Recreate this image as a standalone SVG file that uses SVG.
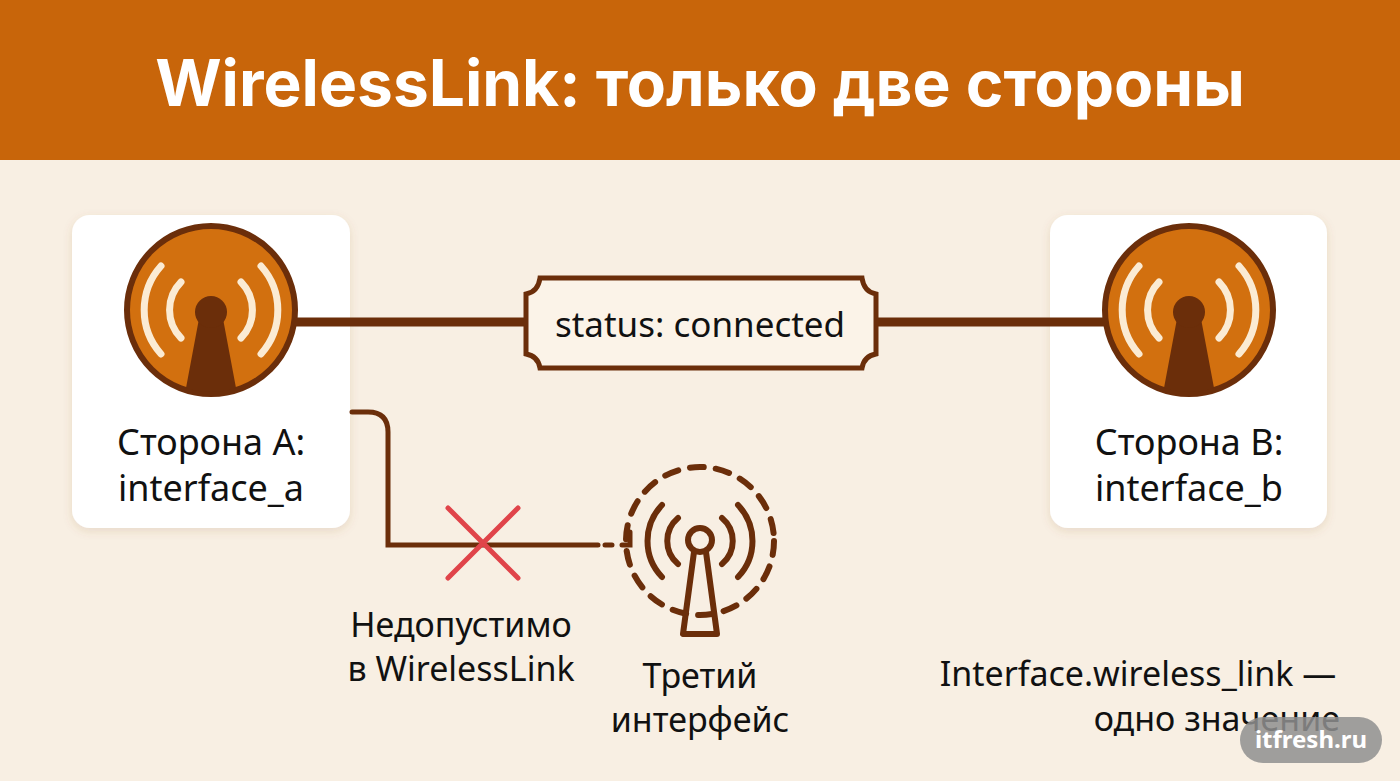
<svg xmlns="http://www.w3.org/2000/svg" width="1400" height="781" viewBox="0 0 1400 781">
<style>
.t{font-family:"Noto Sans","Open Sans",sans-serif;fill:#111}
.card{fill:#fff}
.br{stroke:#6B2E0A;fill:none;stroke-linecap:round}
.wave{stroke:#FBEBD3;stroke-width:7;fill:none;stroke-linecap:round}
</style>
<defs>
<filter id="sh" x="-10%" y="-10%" width="120%" height="120%"><feDropShadow dx="0" dy="3" stdDeviation="5" flood-color="#8a5a30" flood-opacity="0.15"/></filter>
<g id="ant">
<circle r="84" fill="#D2700F" stroke="#6B2E0A" stroke-width="6"/>
<path d="M-30,-28 A40,40 0 0 0 -30,28 M30,-28 A40,40 0 0 1 30,28" class="wave"/>
<path d="M-50,-44 A66,66 0 0 0 -50,44 M50,-44 A66,66 0 0 1 50,44" class="wave"/>
<path d="M-10,-2 L-25,78 Q0,86 25,78 L10,-2 Z" fill="#6B2E0A"/>
<circle cy="2" r="16" fill="#6B2E0A"/>
</g>
</defs>
<rect width="1400" height="781" fill="#F8EFE3"/>
<rect width="1400" height="160" fill="#C8650A"/>
<text x="700" y="106" text-anchor="middle" font-family="Inter,'Noto Sans',sans-serif" font-weight="700" font-size="64" fill="#fff">WirelessLink: только две стороны</text>
<g id="sideA">
<rect x="72" y="215" width="278" height="313" rx="18" class="card" filter="url(#sh)"/>
<use href="#ant" x="211" y="310"/>
<text x="211" y="455" text-anchor="middle" class="t" font-size="36">Сторона А:</text>
<text x="211" y="501" text-anchor="middle" class="t" font-size="36">interface_a</text>
</g>
<g id="sideB">
<rect x="1050" y="215" width="277" height="313" rx="18" class="card" filter="url(#sh)"/>
<use href="#ant" x="1189" y="310"/>
<text x="1189" y="455" text-anchor="middle" class="t" font-size="36">Сторона B:</text>
<text x="1189" y="501" text-anchor="middle" class="t" font-size="36">interface_b</text>
</g>
<g id="connectors">
<path d="M297,322 H526 M876,322 H1103" class="br" stroke-width="9" stroke-linecap="butt"/>
<path d="M352,412 H368 Q388,412 388,432 V545 H598" class="br" stroke-width="5"/>
<path d="M605,545 H612 M622,545 L630,545 V532" class="br" stroke-width="5"/>
<path d="M448,508 L518,578 M518,508 L448,578" stroke="#E0444A" stroke-width="5" stroke-linecap="round"/>
</g>
<g id="label">
<path d="M540,278 H862 Q864,292 876,294 V354 Q864,356 862,368 H540 Q538,356 526,354 V294 Q538,292 540,278 Z" fill="#FBF3E8" stroke="#6B2E0A" stroke-width="5"/>
<text x="700" y="337" text-anchor="middle" class="t" font-size="35">status: connected</text>
</g>
<g id="third">
<circle cx="700" cy="541" r="74" class="br" stroke-width="6" stroke-dasharray="14 12"/>
<path d="M678,518 A30,30 0 0 0 678,564 M722,518 A30,30 0 0 1 722,564" class="br" stroke-width="6"/>
<path d="M662,505 A52,52 0 0 0 662,577 M738,505 A52,52 0 0 1 738,577" class="br" stroke-width="6"/>
<path d="M694,552 L683,634 H717 L706,552" class="br" stroke-width="6" stroke-linejoin="round"/>
<circle cx="700" cy="540" r="12" class="br" stroke-width="6" fill="#F8EFE3"/>
<text x="700" y="688" text-anchor="middle" class="t" font-size="34">Третий</text>
<text x="700" y="732" text-anchor="middle" class="t" font-size="34">интерфейс</text>
</g>
<g id="notes">
<text x="461" y="637" text-anchor="middle" class="t" font-size="34">Недопустимо</text>
<text x="461" y="681" text-anchor="middle" class="t" font-size="34">в WirelessLink</text>
<text x="1138" y="686" text-anchor="middle" class="t" font-size="34">Interface.wireless_link —</text>
<text x="1340" y="731" text-anchor="end" class="t" font-size="34">одно значение</text>
</g>
<g id="watermark">
<rect x="1240" y="717" width="142" height="46" rx="23" fill="#8f8f8f" opacity="0.85"/>
<text x="1311" y="748" text-anchor="middle" font-family="'Noto Sans',sans-serif" font-weight="700" font-size="24" fill="#fff">itfresh.ru</text>
</g>
</svg>
